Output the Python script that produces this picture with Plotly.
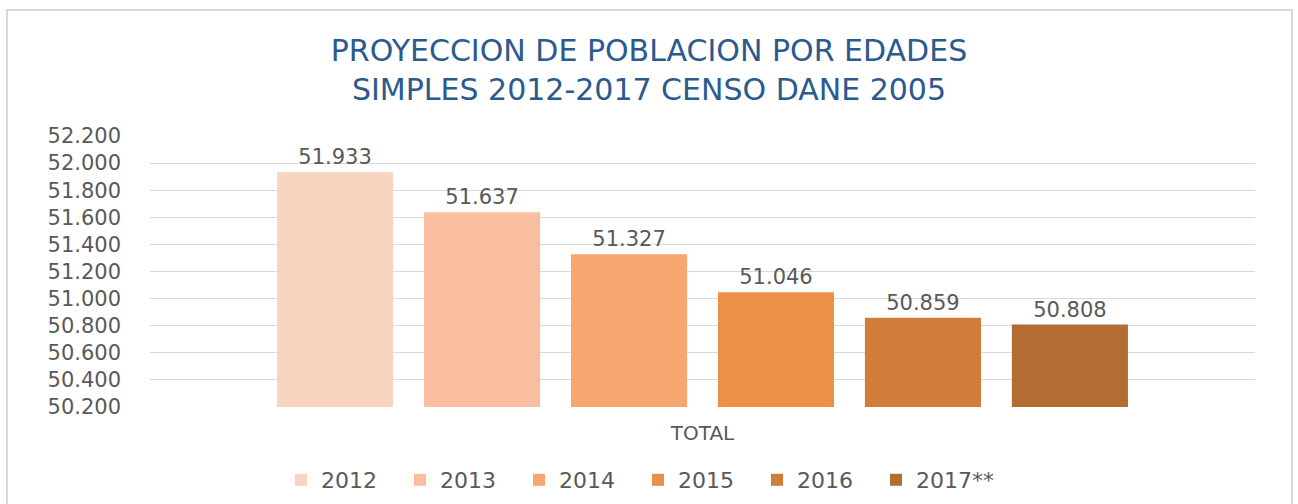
import plotly.graph_objects as go

categories = ["TOTAL"]
years = ["2012", "2013", "2014", "2015", "2016", "2017**"]
values = [51933, 51637, 51327, 51046, 50859, 50808]
colors = ["#F9D4C1", "#F8BE9F", "#F6A770", "#EC9045", "#D17D3A", "#B36C32"]
y_ticks = [50200, 50400, 50600, 50800, 51000, 51200, 51400, 51600, 51800, 52000, 52200]

W, H = 1298, 504
L, R, T, B = 150, 43, 136, 97
pw, ph = W - L - R, H - T - B

def px_x(x):
    return (x - L) / pw

def px_y(y):
    return (H - B - y) / ph

fig = go.Figure()
for yr, v, c in zip(years, values, colors):
    fig.add_trace(go.Bar(
        name=yr, x=categories, y=[v],
        marker=dict(color=c, line=dict(width=0)),
        texttemplate="%{y:,d}", textposition="outside",
        textfont=dict(family="DejaVu Sans", size=21, color="#595959"),
        cliponaxis=False,
    ))

fig.update_layout(
    width=W, height=H,
    margin=dict(l=L, r=R, t=T, b=B, autoexpand=False),
    paper_bgcolor="white", plot_bgcolor="white",
    separators=",.",
    barmode="group", bargap=0.202, bargroupgap=0.21,
    title=dict(
        text="PROYECCION DE POBLACION POR EDADES<br>SIMPLES 2012-2017 CENSO DANE 2005",
        x=0.5, xref="container", xanchor="center",
        y=1 - 61 / H, yref="container", yanchor="middle",
        font=dict(family="DejaVu Sans", size=30, color="#2B5A8E"),
    ),
    font=dict(family="DejaVu Sans", color="#595959"),
    xaxis=dict(
        type="category", showgrid=False, showline=False, ticks="",
        tickfont=dict(size=20, color="#595959"), ticklabelstandoff=12,
        automargin=False,
    ),
    yaxis=dict(
        range=[50200, 52200], tickvals=y_ticks, tickformat=",d",
        showgrid=True, gridcolor="#D9D9D9", gridwidth=1,
        zeroline=False, showline=False, ticks="",
        tickfont=dict(size=21, color="#595959"), ticklabelstandoff=28,
        automargin=False,
    ),
    legend=dict(
        orientation="h", x=px_x(281), xanchor="left",
        y=px_y(480), yanchor="middle",
        font=dict(size=22, color="#595959"),
        entrywidth=74, entrywidthmode="pixels",
        traceorder="normal",
    ),
    showlegend=True,
    shapes=[dict(
        type="rect", xref="paper", yref="paper",
        x0=px_x(7), x1=px_x(1292), y0=px_y(515), y1=px_y(10),
        line=dict(color="#D9D9D9", width=2), fillcolor="rgba(0,0,0,0)",
        layer="below",
    )],
)

fig.write_html("out.html", config={"displayModeBar": False},
               post_script="document.body.style.margin='0';")
